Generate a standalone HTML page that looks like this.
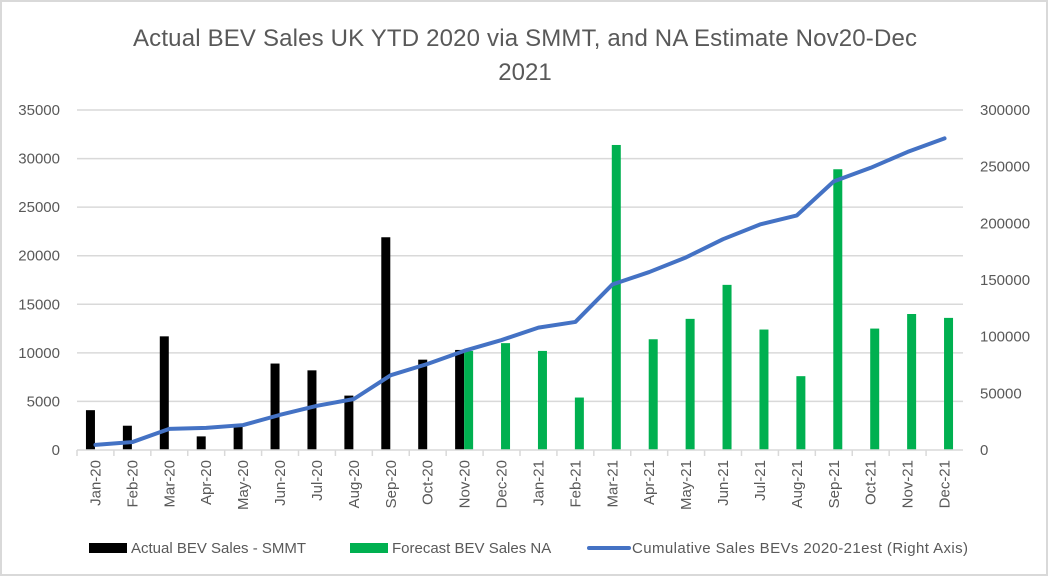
<!DOCTYPE html>
<html><head><meta charset="utf-8"><style>
body{margin:0;background:#fff;width:1050px;height:578px;overflow:hidden;font-family:"Liberation Sans",sans-serif}
svg text{font-family:"Liberation Sans",sans-serif;fill:#595959}
</style></head><body>
<svg id="c" width="1050" height="578">
<rect x="1" y="1" width="1046" height="574" fill="#fff" stroke="#d9d9d9" stroke-width="2"/>
<text x="525" y="46" font-size="24" text-anchor="middle" textLength="784">Actual BEV Sales UK YTD 2020 via SMMT, and NA Estimate Nov20-Dec</text>
<text x="525" y="80" font-size="24" text-anchor="middle">2021</text>
<g id="grid"></g><g id="bars"></g><g id="line"></g><g id="axes"></g>
<g>
<rect x="89" y="543" width="38" height="10" fill="#000"/>
<text x="131" y="553" font-size="15">Actual BEV Sales - SMMT</text>
<rect x="350" y="543" width="38" height="10" fill="#00b050"/>
<text x="392" y="553" font-size="15">Forecast BEV Sales NA</text>
<line x1="589" y1="548" x2="629" y2="548" stroke="#4472c4" stroke-width="4" stroke-linecap="round"/>
<text x="632" y="553" font-size="15" textLength="336">Cumulative Sales BEVs 2020-21est (Right Axis)</text>
</g>
</svg>
<script>
const categories=["Jan-20","Feb-20","Mar-20","Apr-20","May-20","Jun-20","Jul-20","Aug-20","Sep-20","Oct-20","Nov-20","Dec-20","Jan-21","Feb-21","Mar-21","Apr-21","May-21","Jun-21","Jul-21","Aug-21","Sep-21","Oct-21","Nov-21","Dec-21"];
const actual=[4100,2500,11700,1400,2500,8900,8200,5600,21900,9300,10300,null,null,null,null,null,null,null,null,null,null,null,null,null];
const forecast=[null,null,null,null,null,null,null,null,null,null,10200,11000,10200,5400,31400,11400,13500,17000,12400,7600,28900,12500,14000,13600];
const cumulative=[4500,7000,18600,19500,22000,31000,39000,45000,66000,76000,87600,97000,108000,113000,146000,157000,170000,186000,199000,207000,237000,249000,263000,275000];
const leftTicks=[0,5000,10000,15000,20000,25000,30000,35000];
const rightTicks=[0,50000,100000,150000,200000,250000,300000];
const X0=77,X1=963,Y0=450,Y1=110,NS="http://www.w3.org/2000/svg";
const cw=(X1-X0)/categories.length;
const xc=i=>X0+cw*(i+0.5);
const yl=v=>Y0-(v/35000)*(Y0-Y1);
const yr=v=>Y0-(v/300000)*(Y0-Y1);
function mk(p,t,a){const e=document.createElementNS(NS,t);for(const k in a)e.setAttribute(k,a[k]);document.getElementById(p).appendChild(e);return e;}
leftTicks.forEach((v,i)=>{
 if(v>0){const g=mk('grid','line',{x1:X0,x2:X1,y1:yl(v),y2:yl(v),stroke:'#d9d9d9','stroke-width':1.5});
 
 }
 const t=mk('axes','text',{x:60,y:yl(v)+5,'font-size':15,'text-anchor':'end'});t.textContent=v;
 
 
});
rightTicks.forEach(v=>{
 const t=mk('axes','text',{x:980,y:yr(v)+5,'font-size':15});t.textContent=v;
 
 
});
const ax=mk('axes','line',{x1:X0,x2:X1,y1:Y0,y2:Y0,stroke:'#d9d9d9','stroke-width':1.5});


categories.forEach((c,i)=>{
 const tk=mk('axes','line',{x1:X0+cw*i,x2:X0+cw*i,y1:Y0,y2:Y0+6,stroke:'#d9d9d9','stroke-width':1.5});
 
 
 const t=mk('axes','text',{x:0,y:0,'font-size':15,'text-anchor':'end',transform:`translate(${xc(i)+5},${Y0+10}) rotate(-90)`});t.textContent=c;
 
 
 if(actual[i]!=null){const b=mk('bars','rect',{x:xc(i)-9.5,y:yl(actual[i]),width:9,height:Y0-yl(actual[i]),fill:'#000'});
  
  }
 if(forecast[i]!=null){const b=mk('bars','rect',{x:xc(i)-0.5,y:yl(forecast[i]),width:9,height:Y0-yl(forecast[i]),fill:'#00b050'});
  
  }
});
const pl=mk('line','polyline',{points:cumulative.map((v,i)=>xc(i)+','+yr(v)).join(' '),fill:'none',stroke:'#4472c4','stroke-width':4,'stroke-linejoin':'round','stroke-linecap':'round'});


</script>
</body></html>
